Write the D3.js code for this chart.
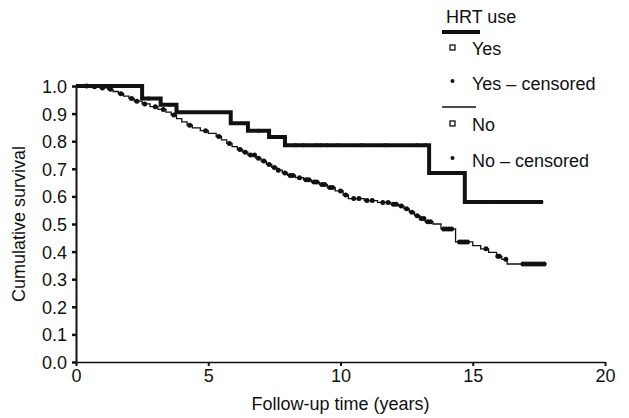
<!DOCTYPE html>
<html>
<head>
<meta charset="utf-8">
<script src="https://cdn.jsdelivr.net/npm/d3@7"></script>
<style>
  body { margin: 0; background: #fff; }
  svg { display: block; font-family: "Liberation Sans", Arial, sans-serif; }
  .axis path, .axis line { stroke: #111; }
  .axis text { font-size: 18px; fill: #111; }
</style>
</head>
<body>
<div id="chart"></div>
<script>
// survival steps: [time (years), survival after step]
var yesSteps = [[0, 1.0], [2.5, 0.955], [3.2, 0.932], [3.8, 0.905], [5.85, 0.865],
  [6.5, 0.838], [7.3, 0.815], [7.9, 0.785], [13.35, 0.685], [14.7, 0.58]];
var yesEnd = 17.65;
var yesCensored = [0.3, 1.1, 2.75, 3.55, 6.9, 7.55, 8.3, 8.6, 9.1, 9.25, 9.5, 9.9, 10.8,
  11.7, 12.9, 13.2, 15.4, 16.0, 16.3, 16.7, 17.1, 17.6];

var noSteps = [[0, 1.0], [0.5, 0.997], [0.9, 0.993], [1.2, 0.988], [1.4, 0.98], [1.6, 0.972],
  [1.8, 0.963], [2.0, 0.955], [2.2, 0.945], [2.5, 0.935], [2.8, 0.925], [3.1, 0.915],
  [3.4, 0.905], [3.6, 0.895], [3.8, 0.882], [4.0, 0.87], [4.2, 0.858], [4.4, 0.848],
  [4.7, 0.838], [5.0, 0.828], [5.3, 0.817], [5.5, 0.805], [5.7, 0.792], [5.9, 0.78],
  [6.1, 0.77], [6.3, 0.76], [6.5, 0.75], [6.8, 0.738], [7.0, 0.728], [7.2, 0.716],
  [7.4, 0.705], [7.6, 0.695], [7.8, 0.685], [8.0, 0.676], [8.3, 0.668], [8.6, 0.66],
  [8.9, 0.652], [9.2, 0.643], [9.5, 0.632], [9.8, 0.62], [10.1, 0.605], [10.3, 0.592],
  [10.9, 0.585], [11.4, 0.578], [11.9, 0.572], [12.2, 0.565], [12.4, 0.555], [12.6, 0.543],
  [12.8, 0.53], [13.0, 0.52], [13.2, 0.508], [13.5, 0.5], [13.8, 0.482], [14.35, 0.435],
  [15.0, 0.422], [15.3, 0.41], [15.6, 0.397], [15.9, 0.383], [16.1, 0.372], [16.3, 0.355]];
var noEnd = 17.75;
var noCensored = [0.4, 0.7, 1.0, 1.3, 1.7, 2.1, 2.3, 2.6, 3.0, 3.3, 3.7, 4.3, 4.9, 5.4, 5.8,
  6.2, 6.4, 6.6, 6.75, 6.9, 7.1, 7.3, 7.5, 7.65, 7.9, 8.1, 8.2, 8.45, 8.7, 8.8, 9.0, 9.1,
  9.3, 9.4, 9.6, 9.7, 10.0, 10.2, 10.5, 10.7, 11.0, 11.2, 11.6, 11.8, 12.0, 12.1, 12.3,
  12.5, 12.7, 12.9, 13.05, 13.15, 13.3, 13.4, 13.9, 14.0, 14.1, 14.2, 14.5, 14.6, 14.7,
  14.8, 15.5, 15.95, 16.0, 16.25, 16.9, 17.0, 17.1, 17.2, 17.3, 17.4, 17.5, 17.6, 17.7];

var xTicks = [0, 5, 10, 15, 20];
var yTicks = [0, 0.1, 0.2, 0.3, 0.4, 0.5, 0.6, 0.7, 0.8, 0.9, 1.0];
var legendItems = ["Yes", "Yes \u2013 censored", "No", "No \u2013 censored"];

var W = 629, H = 418;
var margin = {left: 76, top: 86, right: 24, bottom: 56};

var svg = d3.select("#chart").append("svg").attr("width", W).attr("height", H);

var x = d3.scaleLinear().domain([0, 20]).range([margin.left, W - margin.right]);
var y = d3.scaleLinear().domain([0, 1]).range([H - margin.bottom, margin.top]);

// axes
svg.append("g").attr("class", "axis")
  .attr("transform", "translate(0," + y(0) + ")")
  .call(d3.axisBottom(x).tickValues(xTicks).tickSize(4).tickSizeOuter(0).tickPadding(3))
  .call(function(g) {
    g.select(".domain").attr("stroke-width", 1.5);
    g.selectAll(".tick line").attr("stroke-width", 2);
  });

svg.append("g").attr("class", "axis")
  .attr("transform", "translate(" + x(0) + ",0)")
  .call(d3.axisLeft(y).tickValues(yTicks).tickFormat(d3.format(".1f")).tickSize(4).tickSizeOuter(0).tickPadding(5))
  .call(function(g) {
    g.select(".domain").attr("stroke-width", 2);
    g.selectAll(".tick line").attr("stroke-width", 2.5);
    g.selectAll(".tick text").attr("dy", "0.36em");
  });

// axis titles
svg.append("text")
  .attr("x", x(10)).attr("y", 410)
  .attr("text-anchor", "middle").attr("font-size", 18).attr("fill", "#111")
  .text("Follow-up time (years)");

svg.append("text")
  .attr("transform", "translate(25," + y(0.5) + ") rotate(-90)")
  .attr("text-anchor", "middle").attr("font-size", 18).attr("fill", "#111")
  .text("Cumulative survival");

// KM curves
var line = d3.line()
  .x(function(d) { return x(d[0]); })
  .y(function(d) { return y(d[1]); })
  .curve(d3.curveStepAfter);

function valueAt(steps, t) {
  var v = steps[0][1];
  steps.forEach(function(s) { if (s[0] <= t) v = s[1]; });
  return v;
}

function drawCurve(steps, end, censored, width, r) {
  var pts = steps.concat([[end, steps[steps.length - 1][1]]]);
  svg.append("path")
    .datum(pts)
    .attr("d", line)
    .attr("fill", "none")
    .attr("stroke", "#111")
    .attr("stroke-width", width);

  svg.append("g").selectAll("circle")
    .data(censored)
    .enter().append("circle")
    .attr("cx", function(d) { return x(d); })
    .attr("cy", function(d) { return y(valueAt(steps, d)); })
    .attr("r", r)
    .attr("fill", "#111");
}

drawCurve(noSteps, noEnd, noCensored, 1.3, 2.5);
drawCurve(yesSteps, yesEnd, yesCensored, 4, 2);

// legend
var lg = svg.append("g").attr("font-size", 18).attr("fill", "#111");
lg.append("text").attr("x", 446).attr("y", 23).text("HRT use");
lg.append("line").attr("x1", 442).attr("x2", 480).attr("y1", 32).attr("y2", 32)
  .attr("stroke", "#111").attr("stroke-width", 4);
lg.append("line").attr("x1", 442).attr("x2", 476).attr("y1", 107).attr("y2", 107)
  .attr("stroke", "#111").attr("stroke-width", 1.3);

var rowY = [55, 90, 131, 167];
legendItems.forEach(function(label, i) {
  var cy = rowY[i] - 7;
  if (i % 2 === 0) {
    lg.append("rect").attr("x", 450).attr("y", cy - 3).attr("width", 5).attr("height", 5)
      .attr("fill", "#fff").attr("stroke", "#111").attr("stroke-width", 1.3);
  } else {
    lg.append("circle").attr("cx", 452.5).attr("cy", cy - 2).attr("r", 2).attr("fill", "#111");
  }
  lg.append("text").attr("x", 472).attr("y", rowY[i]).text(label);
});
</script>
</body>
</html>
